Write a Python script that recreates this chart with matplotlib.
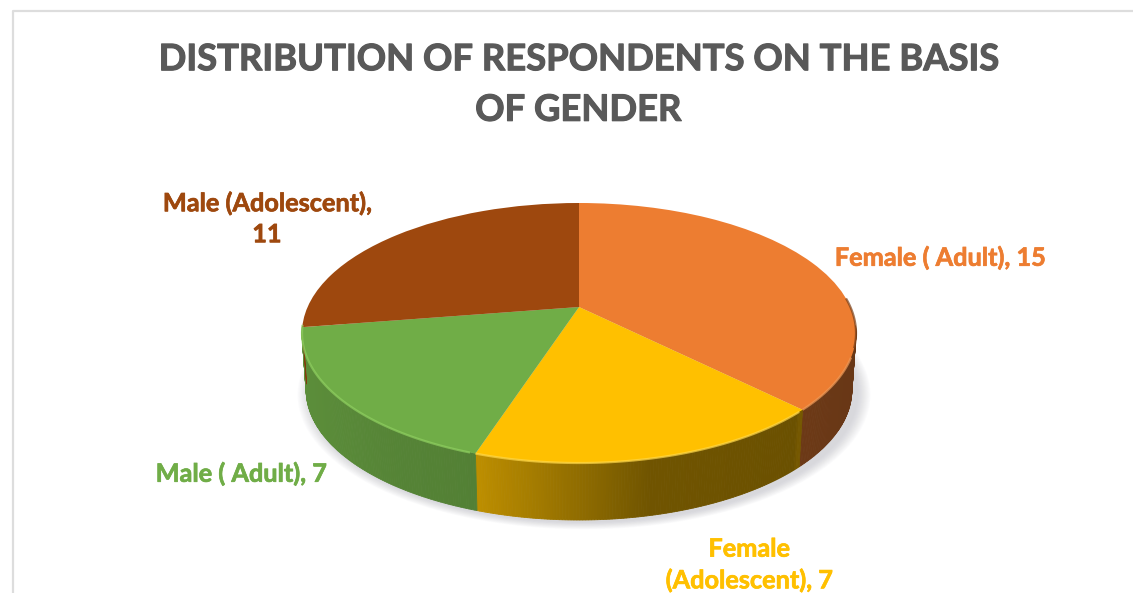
import numpy as np
import matplotlib
matplotlib.use('Agg')
import matplotlib.pyplot as plt
import matplotlib.patheffects as pe
from matplotlib.transforms import Transform
from matplotlib.colors import to_rgb

# data
labels = ['Female ( Adult), 15', 'Female\n(Adolescent), 7', 'Male ( Adult), 7', 'Male (Adolescent),\n11']
values = [15, 7, 7, 11]
colors = ['#ED7D31', '#FFC000', '#70AD47', '#9E480E']
title = 'DISTRIBUTION OF RESPONDENTS ON THE BASIS\nOF GENDER'

# label centres in pixels
label_x = [940, 749, 241, 267]
label_y = [258, 565, 474, 219]

# side wall shading, brightness against pixel x
shade_x = [302, 400, 478, 560, 650, 797, 800, 856]
shade_k = [0.82, 0.76, 0.74, 0.60, 0.44, 0.42, 0.46, 0.44]

# perspective of the disc, in pixels
cx, cy = 579, 307
a, b, k = 271.4, 124.8, 0.2
depth = 57
shrink = 0.985  # lower rim is a bit narrower


def project(u, v):
    w = 1 + k * v
    return cx + a * u / w, cy - b * v / w


class Persp(Transform):
    input_dims = 2
    output_dims = 2

    def transform_non_affine(self, xy):
        x, y = project(xy[:, 0], xy[:, 1])
        return np.column_stack([x, y])


plt.rcParams['font.family'] = ['Lato', 'DejaVu Sans']
fig = plt.figure(figsize=(11.33, 5.93), dpi=100)
ax = fig.add_axes([0, 0, 1, 1])

wedges, _ = ax.pie(values, colors=colors, startangle=90, counterclock=False)
ax.set_aspect('auto')
ax.set_xlim(0, 1133)
ax.set_ylim(593, 0)
ax.axis('off')

# soft shadow
th = np.linspace(0, 2 * np.pi, 300)
sx, sy = project(np.cos(th), np.sin(th))
for i in range(14):
    g = 0.985 + 0.0035 * (14 - i)
    ax.fill(cx + (sx - cx) * g + 5, cy + 4 + depth + (sy - cy) * g, color='#a8a8b4', alpha=0.035, lw=0, zorder=1)

# side wall, one strip per step
for w, col in zip(wedges, colors):
    t = np.radians(np.linspace(w.theta1, w.theta2, max(int(abs(w.theta2 - w.theta1)), 2) * 2))
    for t0, t1 in zip(t[:-1], t[1:]):
        if np.sin(t0) > -0.15 and np.sin(t1) > -0.15:
            continue
        x0, y0 = project(np.cos(t0), np.sin(t0))
        x1, y1 = project(np.cos(t1), np.sin(t1))
        f = np.interp((x0 + x1) / 2, shade_x, shade_k)
        c = np.array(to_rgb(col)) * f
        bx0 = cx + (x0 - cx) * shrink
        bx1 = cx + (x1 - cx) * shrink
        ax.fill([x0, x1, bx1, bx0], [y0, y1, y1 + depth, y0 + depth], color=c, lw=0.6, zorder=2)

# top face
for w in wedges:
    w.set_transform(Persp() + ax.transData)
    w.set_zorder(3)
    w.set_clip_on(False)

# light rim on the front edge, dark edge on the far right
rim = [('#8fd060', 199, 262), ('#ffd84a', 136, 198), ('#f09a58', 112, 135), ('#7a3f18', 86, 108)]
for col, t0, t1 in rim:
    t = np.radians(90 - np.linspace(t0, t1, 60))
    x, y = project(np.cos(t), np.sin(t))
    ax.plot(x, y, color=col, lw=1.6, alpha=0.7, zorder=4, solid_capstyle='butt')

# frame lines
ax.plot([12.5, 12.5, 1133], [593, 10.5, 10.5], color='#dddddd', lw=1.6, zorder=1)

ax.text(578, 85, title, ha='center', va='center', fontsize=26.2, fontweight='bold',
        color='#595959', linespacing=1.65,
        path_effects=[pe.withStroke(linewidth=0.8, foreground='#595959')])
for lab, lx, ly, col in zip(labels, label_x, label_y, colors):
    ax.text(lx, ly, lab, ha='center', va='center', fontsize=18.2, fontweight='bold',
            color=col, linespacing=1.42,
            path_effects=[pe.withStroke(linewidth=0.5, foreground=col)])

fig.savefig('out.png', dpi=100)
